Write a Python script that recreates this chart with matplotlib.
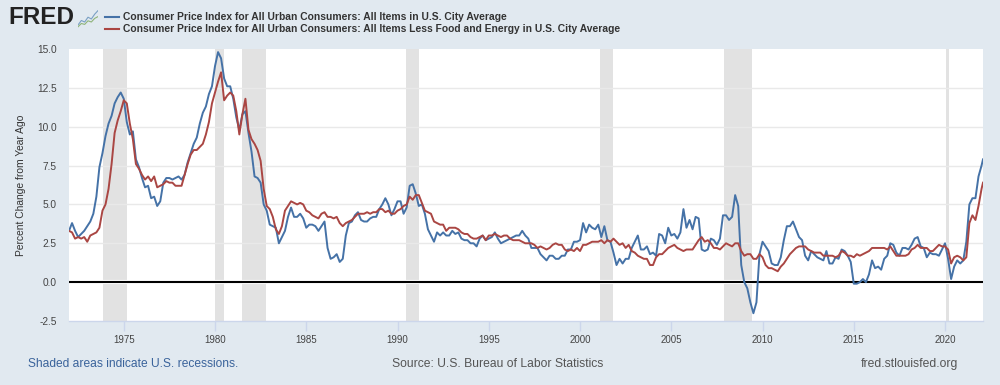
import numpy as np
import matplotlib
matplotlib.use("Agg")
import matplotlib.pyplot as plt
from matplotlib.lines import Line2D

# bimonthly readings, Jan 1972 .. Jan 2022, then Feb 2022
cpi_all = [
 3.3,3.8,3.3,2.9,3.1,3.3,
 3.6,3.9,4.4,5.5,7.4,8.3,
 9.4,10.2,10.7,11.5,11.9,12.2,
 11.8,10.3,9.5,9.7,7.9,7.4,
 6.7,6.1,6.2,5.4,5.5,4.9,
 5.2,6.4,6.7,6.7,6.6,6.7,
 6.8,6.6,6.9,7.7,8.3,8.9,
 9.3,10.2,10.9,11.3,12.1,12.6,
 13.9,14.8,14.4,13.1,12.6,12.6,
 11.8,10.6,9.8,10.8,11.0,9.6,
 8.4,6.8,6.7,6.4,5.0,4.6,
 3.7,3.6,3.5,2.5,2.9,3.3,
 4.2,4.8,4.2,4.2,4.4,4.1,
 3.5,3.7,3.7,3.6,3.3,3.6,
 3.9,2.2,1.5,1.6,1.8,1.3,
 1.5,3.0,3.8,3.9,4.3,4.5,
 4.0,3.9,3.9,4.1,4.2,4.2,
 4.7,5.0,5.4,5.0,4.3,4.7,
 5.2,5.2,4.4,4.8,6.2,6.3,
 5.7,4.9,5.0,4.4,3.4,3.0,
 2.6,3.2,3.0,3.2,3.0,3.0,
 3.3,3.1,3.2,2.8,2.7,2.7,
 2.5,2.5,2.3,2.8,3.0,2.7,
 2.8,2.9,3.2,2.8,2.5,2.6,
 2.7,2.8,2.9,3.0,3.0,3.3,
 3.0,2.8,2.2,2.2,2.2,1.8,
 1.6,1.4,1.7,1.7,1.5,1.5,
 1.7,1.7,2.1,2.1,2.6,2.6,
 2.7,3.8,3.2,3.7,3.5,3.4,
 3.7,2.9,3.6,2.7,2.6,1.9,
 1.1,1.5,1.2,1.5,1.5,2.2,
 2.6,3.0,2.1,2.1,2.3,1.8,
 1.9,1.7,3.1,3.0,2.5,3.5,
 3.0,3.1,2.8,3.2,4.7,3.5,
 4.0,3.4,4.2,4.1,2.1,2.0,
 2.1,2.8,2.7,2.4,2.8,4.3,
 4.3,4.0,4.2,5.6,4.9,1.1,
 0.0,-0.4,-1.3,-2.0,-1.3,1.8,
 2.6,2.3,2.0,1.2,1.1,1.1,
 1.6,2.7,3.6,3.6,3.9,3.4,
 2.9,2.7,1.7,1.4,2.0,1.8,
 1.6,1.5,1.4,2.0,1.2,1.2,
 1.6,1.5,2.1,2.0,1.7,1.3,
 -0.1,-0.1,0.0,0.2,0.0,0.5,
 1.4,0.9,1.0,0.8,1.5,1.7,
 2.5,2.4,1.9,1.7,2.2,2.2,
 2.1,2.4,2.8,2.9,2.3,2.2,
 1.6,1.9,1.8,1.8,1.7,2.1,
 2.5,1.5,0.2,1.0,1.4,1.2,
 1.4,2.6,5.0,5.4,5.4,6.8,
 7.5,7.9]

cpi_core = [
 3.3,3.2,2.8,2.9,2.8,2.9,
 2.6,3.0,3.1,3.2,3.5,4.6,
 5.0,6.0,7.6,9.6,10.4,11.0,
 11.7,11.5,10.2,9.2,7.6,7.3,
 6.9,6.6,6.8,6.5,6.8,6.1,
 6.2,6.3,6.5,6.4,6.4,6.2,
 6.2,6.2,6.9,7.6,8.2,8.5,
 8.5,8.7,8.9,9.5,10.3,11.5,
 12.2,12.9,13.5,11.7,12.0,12.2,
 12.0,11.0,9.5,10.8,11.8,9.8,
 9.2,8.9,8.5,7.8,6.0,4.9,
 4.7,4.2,3.4,3.1,3.6,4.6,
 4.9,5.2,5.1,5.0,5.1,5.0,
 4.6,4.5,4.3,4.2,4.1,4.4,
 4.5,4.2,4.2,4.1,4.2,3.8,
 3.6,3.8,3.9,4.0,4.2,4.4,
 4.4,4.4,4.5,4.4,4.5,4.5,
 4.7,4.7,4.5,4.6,4.4,4.4,
 4.6,4.7,4.9,5.0,5.5,5.3,
 5.6,5.6,5.1,4.6,4.5,4.4,
 3.9,3.8,3.7,3.7,3.3,3.5,
 3.5,3.5,3.4,3.2,3.1,3.1,
 2.9,2.8,2.8,2.9,3.0,2.7,
 3.0,3.0,3.1,3.0,2.9,3.0,
 3.0,2.8,2.7,2.7,2.7,2.6,
 2.5,2.5,2.5,2.4,2.2,2.3,
 2.2,2.1,2.2,2.4,2.5,2.4,
 2.4,2.1,2.0,2.1,2.0,2.2,
 2.0,2.4,2.4,2.5,2.6,2.6,
 2.6,2.7,2.5,2.7,2.6,2.8,
 2.6,2.4,2.5,2.2,2.4,2.0,
 1.9,1.7,1.6,1.5,1.5,1.1,
 1.1,1.6,1.8,1.8,2.0,2.2,
 2.3,2.4,2.2,2.1,2.0,2.1,
 2.1,2.1,2.4,2.7,2.9,2.6,
 2.7,2.5,2.2,2.2,2.1,2.3,
 2.5,2.4,2.3,2.5,2.5,2.0,
 1.7,1.8,1.8,1.5,1.5,1.8,
 1.6,1.1,0.9,0.9,0.8,0.7,
 1.0,1.2,1.5,1.8,2.0,2.2,
 2.3,2.3,2.3,2.1,2.0,1.9,
 1.9,1.9,1.7,1.7,1.7,1.7,
 1.6,1.7,2.0,1.9,1.7,1.7,
 1.6,1.8,1.7,1.8,1.9,2.0,
 2.2,2.2,2.2,2.2,2.2,2.1,
 2.3,2.0,1.7,1.7,1.7,1.7,
 1.8,2.1,2.2,2.4,2.2,2.2,
 2.2,2.0,2.0,2.2,2.4,2.3,
 2.3,2.1,1.2,1.6,1.7,1.6,
 1.4,1.6,3.8,4.3,4.0,4.9,
 6.0,6.4]

dates = list(1972 + np.arange(len(cpi_all) - 1) / 6) + [2022.08]
recessions = [(1973.88, 1975.17), (1980.0, 1980.5), (1981.5, 1982.8),
              (1990.45, 1991.15), (2001.1, 2001.8), (2007.9, 2009.4), (2020.05, 2020.22)]
y_ticks = [-2.5, 0, 2.5, 5, 7.5, 10, 12.5, 15]
x_ticks = [1975, 1980, 1985, 1990, 1995, 2000, 2005, 2010, 2015, 2020]
label_all = "Consumer Price Index for All Urban Consumers: All Items in U.S. City Average"
label_core = "Consumer Price Index for All Urban Consumers: All Items Less Food and Energy in U.S. City Average"

BG = "#e1e9f0"; BLUE = "#4572a7"; RED = "#aa4643"
plt.rcParams["font.family"] = ["Liberation Sans", "DejaVu Sans"]
W, H = 1000, 385
fig = plt.figure(figsize=(W/100, H/100), dpi=100, facecolor=BG)
ax = fig.add_axes([69/W, 1-321/H, (983-69)/W, (321-49)/H], facecolor="white")
ax.set_xlim(1972, 2022.08); ax.set_ylim(-2.5, 15)

for a, b in recessions:
    ax.axvspan(a, b, color="#e2e2e2", lw=0, zorder=1)
for v in y_ticks[2:-1]:
    ax.axhline(v, color="#e9e9e9", lw=1.0, zorder=1.5)
ax.axhline(0, color="white", lw=3.0, zorder=1.6)
ax.axhline(0, color="black", lw=1.5, zorder=2)
ax.plot(dates, cpi_all, color=BLUE, lw=1.4, zorder=3, solid_joinstyle="round")
ax.plot(dates, cpi_core, color=RED, lw=1.4, zorder=4, solid_joinstyle="round")

for s in ax.spines.values():
    s.set_visible(False)
ax.spines["bottom"].set_visible(True); ax.spines["bottom"].set_color("#ccd6eb"); ax.spines["bottom"].set_linewidth(1)
ax.set_yticks(y_ticks); ax.set_yticklabels([f"{v:.1f}" for v in y_ticks])
ax.set_xticks(x_ticks)
ax.tick_params(axis="y", length=0, pad=9, labelsize=7.3, labelcolor="#444444")
ax.tick_params(axis="x", length=7, width=1, color="#ccd6eb", pad=3, labelsize=7.0, labelcolor="#444444")
ax.set_ylabel("Percent Change from Year Ago", fontsize=7.4, color="#333333", labelpad=8)

def T(x, y, s, **k):
    fig.text(x/W, 1-y/H, s, va="center", **k)

T(8, 18, "FRED", fontsize=17.5, fontweight="bold", color="#222222")
icon = fig.add_axes([78/W, 1-28/H, 20/W, 18/H]); icon.axis("off")
icon.set_xlim(0, 6); icon.set_ylim(0, 6)
icon.plot([0, 1, 2, 3, 4, 5, 6], [1, 2.5, 2, 3.6, 3, 4.6, 5.8], color="#7aa0c4", lw=0.8)
icon.plot([0, 1, 2, 3, 4, 5, 6], [0.4, 1.5, 1.2, 2.4, 2, 3.2, 3.8], color="#8fb47a", lw=0.8)

for y, c, s in [(17, BLUE, label_all), (29, RED, label_core)]:
    fig.add_artist(Line2D([105/W, 119/W], [1-y/H]*2, color=c, lw=1.5, transform=fig.transFigure))
    T(123, y, s, fontsize=7.38, fontweight="bold", color="#333333")

T(28, 364, "Shaded areas indicate U.S. recessions.", fontsize=8.65, color="#3a639b")
T(392, 364, "Source: U.S. Bureau of Labor Statistics", fontsize=8.7, color="#555555")
T(861, 364, "fred.stlouisfed.org", fontsize=8.75, color="#555555")
fig.savefig("out.png", dpi=100, facecolor=BG)
